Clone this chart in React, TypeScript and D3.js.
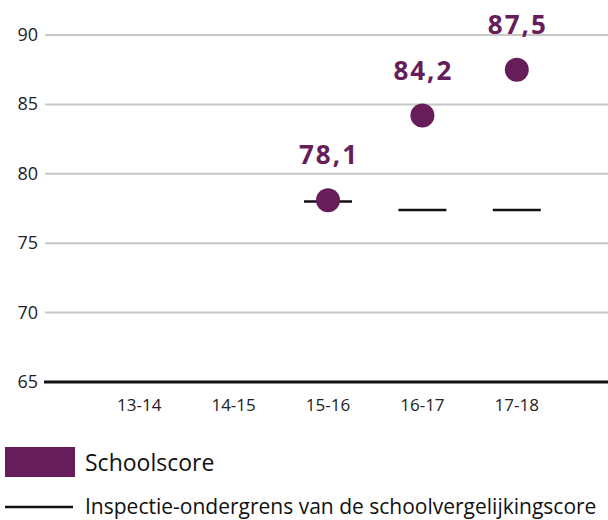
import { useEffect, useRef } from 'react';
import * as d3 from 'd3';

const years = ['13-14', '14-15', '15-16', '16-17', '17-18'];
const schoolScore: (number | null)[] = [null, null, 78.1, 84.2, 87.5];
const ondergrens: (number | null)[] = [null, null, 78.0, 77.4, 77.4];
const yTicks = [65, 70, 75, 80, 85, 90];

const PURPLE = '#661d5a';
const FONT = '"Open Sans", "Noto Sans", sans-serif';

export default function App() {
  const ref = useRef<SVGSVGElement | null>(null);

  useEffect(() => {
    const svg = d3.select(ref.current);
    svg.selectAll('*').remove();

    const width = 608;
    const height = 520;

    const x = d3.scaleBand()
      .domain(years)
      .range([92, 564]);

    const y = d3.scaleLinear()
      .domain([65, 90])
      .range([382, 35]);

    const cx = (d: string) => x(d)! + x.bandwidth() / 2;

    // grid lines
    svg.append('g')
      .selectAll('line')
      .data(yTicks.filter(t => t !== 65))
      .join('line')
      .attr('x1', 45)
      .attr('x2', width)
      .attr('y1', d => y(d))
      .attr('y2', d => y(d))
      .attr('stroke', '#c8c8c8')
      .attr('stroke-width', 2);

    // baseline
    svg.append('line')
      .attr('x1', 44)
      .attr('x2', width)
      .attr('y1', y(65))
      .attr('y2', y(65))
      .attr('stroke', '#111')
      .attr('stroke-width', 3);

    // y labels
    svg.append('g')
      .selectAll('text')
      .data(yTicks)
      .join('text')
      .attr('x', 38)
      .attr('y', d => y(d) + 6)
      .attr('text-anchor', 'end')
      .attr('font-family', FONT)
      .attr('font-size', 18)
      .attr('fill', '#222')
      .text(d => d);

    // x labels
    svg.append('g')
      .selectAll('text')
      .data(years)
      .join('text')
      .attr('x', d => cx(d))
      .attr('y', 411)
      .attr('text-anchor', 'middle')
      .attr('font-family', FONT)
      .attr('font-size', 17)
      .attr('fill', '#222')
      .text(d => d);

    // threshold dashes
    const thr = years.map((yr, i) => ({ yr, v: ondergrens[i] })).filter(d => d.v != null);
    svg.append('g')
      .selectAll('line')
      .data(thr)
      .join('line')
      .attr('x1', d => cx(d.yr) - 24)
      .attr('x2', d => cx(d.yr) + 24)
      .attr('y1', d => y(d.v as number))
      .attr('y2', d => y(d.v as number))
      .attr('stroke', '#111')
      .attr('stroke-width', 2.5);

    // school score dots
    const pts = years.map((yr, i) => ({ yr, v: schoolScore[i] })).filter(d => d.v != null);
    svg.append('g')
      .selectAll('circle')
      .data(pts)
      .join('circle')
      .attr('cx', d => cx(d.yr))
      .attr('cy', d => y(d.v as number))
      .attr('r', 12)
      .attr('fill', PURPLE);

    svg.append('g')
      .selectAll('text')
      .data(pts)
      .join('text')
      .attr('x', d => cx(d.yr) + 1)
      .attr('y', d => y(d.v as number) - 36)
      .attr('text-anchor', 'middle')
      .attr('font-family', FONT)
      .attr('font-weight', 'bold')
      .attr('font-size', 26)
      .attr('letter-spacing', 2)
      .attr('fill', PURPLE)
      .text(d => d3.format('.1f')(d.v as number).replace('.', ','));

    // legend
    svg.append('rect')
      .attr('x', 5)
      .attr('y', 447)
      .attr('width', 70)
      .attr('height', 30)
      .attr('fill', PURPLE);
    svg.append('text')
      .attr('x', 85)
      .attr('y', 471)
      .attr('font-family', FONT)
      .attr('font-size', 23)
      .attr('fill', '#111')
      .text('Schoolscore');

    svg.append('line')
      .attr('x1', 5)
      .attr('x2', 73)
      .attr('y1', 507)
      .attr('y2', 507)
      .attr('stroke', '#111')
      .attr('stroke-width', 2.5);
    svg.append('text')
      .attr('x', 85)
      .attr('y', 514)
      .attr('font-family', FONT)
      .attr('font-size', 21)
      .attr('fill', '#111')
      .text('Inspectie-ondergrens van de schoolvergelijkingscore');

    svg.attr('width', width).attr('height', height);
  }, []);

  return (
    <svg
      ref={ref}
      style={{ position: 'absolute', left: 0, top: 0, display: 'block', background: '#fff' }}
    />
  );
}
